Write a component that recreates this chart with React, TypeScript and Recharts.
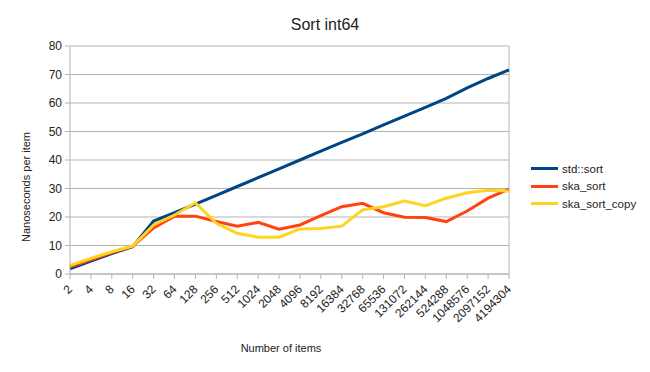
// Sort int64 — nanoseconds per item vs. number of items (log2 steps)

import { LineChart, Line, XAxis, YAxis, CartesianGrid, ReferenceLine } from 'recharts';

const sizes = [
  '2', '4', '8', '16', '32', '64', '128', '256', '512', '1024', '2048',
  '4096', '8192', '16384', '32768', '65536', '131072', '262144', '524288',
  '1048576', '2097152', '4194304',
];
const stdSort = [
  1.8, 4.5, 7.2, 9.6, 18.6, 21.5, 24.5, 27.6, 30.7, 33.8, 36.9,
  40.0, 43.1, 46.2, 49.2, 52.3, 55.4, 58.5, 61.6, 65.3, 68.6, 71.6,
];
const skaSort = [
  2.5, 5.0, 7.5, 9.8, 16.2, 20.3, 20.3, 18.4, 16.8, 18.1, 15.7,
  17.2, 20.5, 23.6, 24.8, 21.5, 19.9, 19.8, 18.4, 22.1, 26.6, 29.8,
];
const skaSortCopy = [
  3.0, 5.5, 7.8, 9.8, 17.2, 20.7, 25.0, 17.8, 14.3, 12.9, 12.9,
  15.8, 16.0, 16.8, 22.5, 23.6, 25.6, 24.0, 26.6, 28.5, 29.4, 29.1,
];
const yTicks = [0, 10, 20, 30, 40, 50, 60, 70, 80];

const series = [
  { key: 'std', name: 'std::sort', color: '#004586', values: stdSort },
  { key: 'ska', name: 'ska_sort', color: '#ff420e', values: skaSort },
  { key: 'copy', name: 'ska_sort_copy', color: '#ffd320', values: skaSortCopy },
];

const data = sizes.map((n, i) => {
  const row: any = { n };
  series.forEach((s) => (row[s.key] = s.values[i]));
  return row;
});

const FONT = '"Liberation Sans", Arial, sans-serif';
const TEXT = '#222';
const GRID = '#b3b3b3';

const SlantTick = ({ x, y, payload }: any) => (
  <g transform={`translate(${x},${y + 6})`}>
    <text transform="rotate(-45)" textAnchor="end" dy="0.35em" fontSize={12} fill={TEXT} fontFamily={FONT}>
      {payload.value}
    </text>
  </g>
);

export default function App() {
  return (
    <div style={{ position: 'absolute', left: 0, top: 0, width: 650, height: 372, background: '#fff', fontFamily: FONT, color: TEXT }}>
      <div style={{ position: 'absolute', left: 0, width: 650, top: 16, textAlign: 'center', fontSize: 16, lineHeight: '18px' }}>
        Sort int64
      </div>
      <div
        style={{
          position: 'absolute', left: 26, top: 187, fontSize: 11, whiteSpace: 'nowrap',
          transform: 'translate(-50%, -50%) rotate(-90deg)',
        }}
      >
        Nanoseconds per item
      </div>
      <div style={{ position: 'absolute', left: 281, top: 348, fontSize: 11, transform: 'translate(-50%, -50%)', whiteSpace: 'nowrap' }}>
        Number of items
      </div>

      <LineChart width={650} height={372} data={data} margin={{ top: 46, right: 141, left: 0, bottom: 0 }}>
        <CartesianGrid vertical={false} stroke={GRID} />
        <XAxis
          dataKey="n"
          interval={0}
          height={98}
          tick={<SlantTick />}
          tickSize={5}
          tickMargin={2}
          stroke={GRID}
          tickLine={{ stroke: GRID }}
        />
        <YAxis
          domain={[0, 80]}
          ticks={yTicks}
          width={70}
          tickSize={5}
          tickMargin={3}
          stroke={GRID}
          tick={{ fontSize: 12, fill: TEXT, fontFamily: FONT }}
        />
        <ReferenceLine x={sizes[sizes.length - 1]} stroke={GRID} />
        {series.map((s) => (
          <Line
            key={s.key}
            type="linear"
            dataKey={s.key}
            name={s.name}
            stroke={s.color}
            strokeWidth={3}
            dot={false}
            isAnimationActive={false}
          />
        ))}
      </LineChart>

      <div style={{ position: 'absolute', left: 531, top: 160 }}>
        {series.map((s) => (
          <div key={s.key} style={{ display: 'flex', alignItems: 'center', height: 17.5, fontSize: 11.5 }}>
            <span style={{ display: 'inline-block', width: 27, height: 3, background: s.color, marginRight: 4 }} />
            {s.name}
          </div>
        ))}
      </div>
    </div>
  );
}
